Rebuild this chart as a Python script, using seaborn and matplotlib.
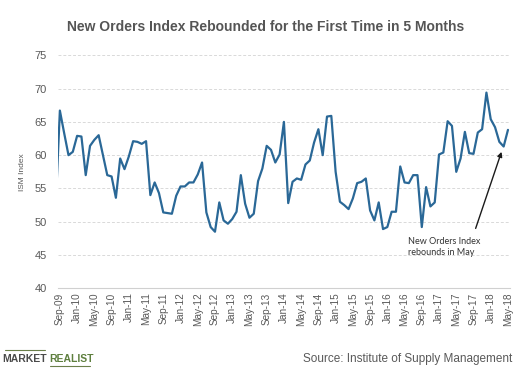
import numpy as np
import pandas as pd
import matplotlib
matplotlib.use("Agg")
import matplotlib.pyplot as plt
import seaborn as sns
from matplotlib.lines import Line2D

# ---- data ----
# index -1 = Aug-09 (only a clipped stub is visible at the left edge), 0 = Sep-09 ... 104 = May-18
month_index = list(range(-1, 105))
ism_new_orders = [
    52.0,
    66.7, 63.3, 60.0, 60.5, 62.9, 62.8, 57.0, 61.4, 62.3, 63.0, 60.0, 57.0,
    56.8, 53.6, 59.5, 57.9, 59.8, 62.1, 62.0, 61.7, 62.1, 54.0, 55.9, 54.3,
    51.4, 51.3, 51.2, 53.9, 55.3, 55.3, 55.9, 55.9, 57.1, 58.9, 51.4, 49.2,
    48.5, 52.9, 50.2, 49.7, 50.4, 51.5, 57.0, 52.7, 50.6, 51.2, 56.1, 58.0,
    61.4, 60.8, 58.9, 60.1, 65.0, 52.8, 56.0, 56.5, 56.3, 58.6, 59.2, 61.9,
    63.9, 60.0, 65.8, 65.9, 57.5, 53.0, 52.5, 51.9, 53.5, 55.8, 56.0, 56.5,
    51.7, 50.2, 52.9, 48.9, 49.2, 51.5, 51.5, 58.3, 55.9, 55.8, 57.0, 57.0,
    49.2, 55.2, 52.3, 52.9, 60.1, 60.4, 65.1, 64.4, 57.5, 59.5, 63.5, 60.3,
    60.2, 63.4, 63.9, 69.4, 65.4, 64.2, 62.0, 61.3, 63.8,
]
tick_labels = ["Sep-09", "Jan-10", "May-10", "Sep-10", "Jan-11", "May-11", "Sep-11",
               "Jan-12", "May-12", "Sep-12", "Jan-13", "May-13", "Sep-13", "Jan-14",
               "May-14", "Sep-14", "Jan-15", "May-15", "Sep-15", "Jan-16", "May-16",
               "Sep-16", "Jan-17", "May-17", "Sep-17", "Jan-18", "May-18"]
y_ticks = [40, 45, 50, 55, 60, 65, 70, 75]

title = "New Orders Index Rebounded for the First Time in 5 Months"
y_label = "ISM Index"
note_text = "New Orders Index\nrebounds in May"
source_text = "Source: Institute of Supply Management"

df = pd.DataFrame({"month": month_index, "value": ism_new_orders})

sns.set_style("white")
plt.rcParams["font.family"] = ["Liberation Sans", "DejaVu Sans"]

fig = plt.figure(figsize=(5.2, 3.7), dpi=100)
ax = fig.add_axes([0.111, 0.2208, 0.870, 0.6297])

sns.lineplot(data=df, x="month", y="value", ax=ax, color="#2a6897",
             linewidth=1.6, clip_on=True)

ax.set_xlim(-0.5, 104.5)
ax.set_ylim(40, 75)
ax.set_yticks(y_ticks)
ax.set_yticklabels([str(v) for v in y_ticks], fontsize=8, color="#595959")
major_pos = list(range(0, 105, 4))
ax.set_xticks(major_pos)
ax.set_xticklabels(tick_labels, rotation=90, fontsize=7.2, color="#595959")
ax.set_xticks([p - 0.5 for p in major_pos], minor=True)
ax.tick_params(axis="x", which="major", length=0, pad=3)
ax.tick_params(axis="x", which="minor", length=3, color="#d0d0d0", width=0.8)
ax.tick_params(axis="y", length=0, pad=8)

for v in y_ticks[1:]:
    ax.axhline(v, color="#d9d9d9", linestyle=(0, (3, 2)), linewidth=0.7, zorder=0)

for s in ["top", "right", "left"]:
    ax.spines[s].set_visible(False)
ax.spines["bottom"].set_color("#d0d0d0")
ax.spines["bottom"].set_linewidth(0.8)
ax.set_xlabel("")
ax.set_ylabel(y_label, fontsize=6, color="#595959", labelpad=6)
ax.grid(False)

ax.annotate("", xy=(102.5, 60.5), xytext=(96.5, 49.0),
            arrowprops=dict(arrowstyle="-|>", color="#1a1a1a", lw=1.0,
                            mutation_scale=7, shrinkA=0, shrinkB=0))
ax.text(80.8, 46.2, note_text, fontsize=6.5, color="#333333", ha="left",
        va="center", linespacing=1.35, family=["Lato", "DejaVu Sans"])

fig.text(0.51, 0.928, title, fontsize=10, fontweight="bold", color="#555555",
         ha="center", va="center")

fig.text(0.985, 0.031, source_text, fontsize=8.5, color="#595959",
         ha="right", va="center")
fig.text(0.004, 0.031, "MARKET", fontsize=7.5, fontweight="bold", color="#4a4a4a",
         ha="left", va="center")
fig.text(0.095, 0.031, "REALIST", fontsize=7.5, fontweight="bold", color="#5e7f3e",
         ha="left", va="center")
fig.add_artist(Line2D([0.01, 0.087], [0.053, 0.053], color="#6b7f4a", lw=0.8,
                      transform=fig.transFigure))
fig.add_artist(Line2D([0.096, 0.173], [0.011, 0.011], color="#6b7f4a", lw=0.8,
                      transform=fig.transFigure))

fig.savefig("out.png", dpi=100, facecolor="white")
